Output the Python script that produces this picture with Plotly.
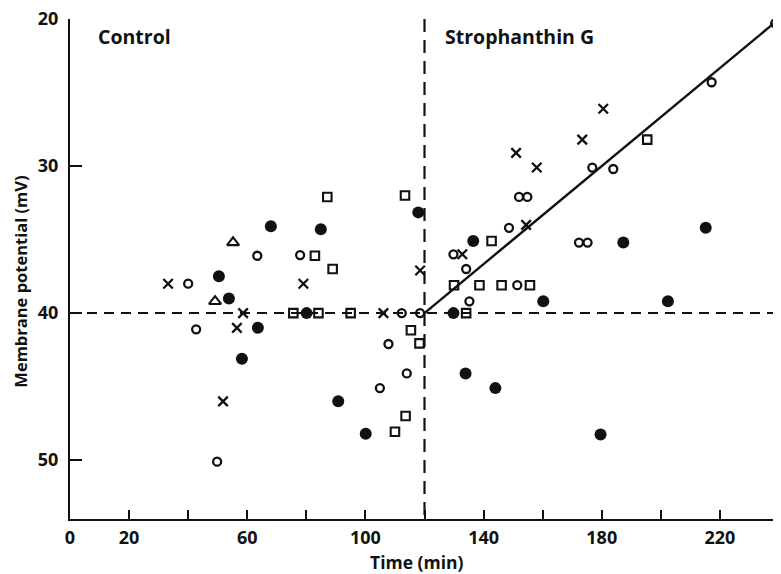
import plotly.graph_objects as go

# ---- data (time in min, membrane potential in mV) ----
open_circle_x = [40.0, 42.7, 49.8, 63.4, 77.9, 112.3, 118.5, 104.9, 107.8, 114.0, 129.8, 134.1, 135.2,
                 148.6, 151.4, 152.0, 154.8, 172.3, 175.2, 176.8, 183.9, 217.2, 238.7]
open_circle_y = [38.0, 41.1, 50.1, 36.1, 36.05, 40.0, 40.0, 45.1, 42.1, 44.1, 36.0, 37.0, 39.2,
                 34.2, 38.1, 32.1, 32.1, 35.2, 35.2, 30.1, 30.2, 24.3, 20.3]

filled_x = [50.4, 53.8, 63.6, 58.2, 68.0, 84.9, 80.1, 90.8, 100.1, 117.9, 129.8, 136.5, 133.9,
            144.0, 160.2, 179.6, 187.3, 202.4, 215.2]
filled_y = [37.5, 39.0, 41.0, 43.1, 34.1, 34.3, 40.0, 46.0, 48.2, 33.15, 40.0, 35.1, 44.1,
            45.1, 39.2, 48.25, 35.2, 39.2, 34.2]

square_x = [82.9, 87.1, 88.9, 75.6, 84.1, 95.0, 110.0, 113.6, 115.4, 118.3, 113.4, 130.0, 134.1,
            142.7, 138.6, 146.1, 155.7, 195.4]
square_y = [36.1, 32.1, 37.0, 40.0, 40.0, 40.0, 48.07, 47.0, 41.16, 42.06, 32.0, 38.1, 40.0,
            35.1, 38.1, 38.1, 38.1, 28.2]

cross_x = [33.2, 58.6, 56.5, 51.8, 79.0, 106.1, 118.5, 132.8, 154.4, 151.0, 158.0, 173.4, 180.5]
cross_y = [38.0, 40.0, 41.0, 46.0, 38.0, 40.0, 37.1, 36.0, 34.0, 29.1, 30.1, 28.2, 26.1]

triangle_x = [49.1, 55.2]
triangle_y = [39.2, 35.2]

# reference lines
baseline_x = [0, 240]
baseline_y = [40, 40]
drug_time_x = [120, 120]
drug_time_y = [20, 54]
fit_x = [120, 240]
fit_y = [40, 20]

x_tick_vals = [0, 20, 40, 60, 80, 100, 120, 140, 160, 180, 200, 220, 240]
x_tick_text = ["0", "20", "", "60", "", "100", "", "140", "", "180", "", "220", ""]
y_tick_vals = [20, 30, 40, 50]
y_tick_text = ["20", "30", "40", "50"]

FONT = "Open Sans"
BLACK = "#111111"

fig = go.Figure()

fig.add_trace(go.Scatter(x=baseline_x, y=baseline_y, mode="lines",
                         line=dict(color=BLACK, width=2, dash="10px,7px"), hoverinfo="skip"))
fig.add_trace(go.Scatter(x=drug_time_x, y=drug_time_y, mode="lines",
                         line=dict(color=BLACK, width=2.2, dash="13px,8px"), hoverinfo="skip"))
fig.add_trace(go.Scatter(x=fit_x, y=fit_y, mode="lines",
                         line=dict(color=BLACK, width=2.4), hoverinfo="skip"))

fig.add_trace(go.Scatter(x=open_circle_x, y=open_circle_y, mode="markers", cliponaxis=False,
                         marker=dict(symbol="circle-open", size=8, color=BLACK,
                                     line=dict(width=2.3, color=BLACK))))
fig.add_trace(go.Scatter(x=filled_x, y=filled_y, mode="markers", cliponaxis=False,
                         marker=dict(symbol="circle", size=12, color=BLACK,
                                     line=dict(width=0))))
fig.add_trace(go.Scatter(x=square_x, y=square_y, mode="markers", cliponaxis=False,
                         marker=dict(symbol="square-open", size=8.5, color=BLACK,
                                     line=dict(width=2.1, color=BLACK))))
fig.add_trace(go.Scatter(x=cross_x, y=cross_y, mode="markers", cliponaxis=False,
                         marker=dict(symbol="x-thin-open", size=9.5, color=BLACK,
                                     line=dict(width=2.3, color=BLACK))))
fig.add_trace(go.Scatter(x=triangle_x, y=triangle_y, mode="markers", cliponaxis=False,
                         marker=dict(symbol="triangle-up-open", size=10.5, color=BLACK,
                                     line=dict(width=2.1, color=BLACK))))

# the page body has an 8px margin, so the figure is laid out 8px left/up of the target
fig.update_layout(
    template="none",
    width=781, height=574,
    margin=dict(l=62, r=10, t=11, b=63, autoexpand=False),
    paper_bgcolor="white", plot_bgcolor="white",
    showlegend=False,
    font=dict(family=FONT, size=16, color=BLACK),
    xaxis=dict(range=[0, 240], tickmode="array", tickvals=x_tick_vals, ticktext=x_tick_text,
               ticks="inside", ticklen=9, tickwidth=2, tickcolor=BLACK, automargin=False,
               showline=True, linewidth=2, linecolor=BLACK, showgrid=False, zeroline=False,
               tickfont=dict(family=FONT, size=18, color=BLACK, weight="bold"),
               ticklabelstandoff=1, ticklabeloverflow="allow"),
    yaxis=dict(range=[54, 20], tickmode="array", tickvals=y_tick_vals, ticktext=y_tick_text,
               ticks="inside", ticklen=12, tickwidth=2, tickcolor=BLACK, automargin=False,
               showline=True, linewidth=2, linecolor=BLACK, showgrid=False, zeroline=False,
               tickfont=dict(family=FONT, size=18, color=BLACK, weight="bold"),
               ticklabelstandoff=6, ticklabeloverflow="allow"),
)

fig.add_annotation(text="<b>Membrane potential (mV)</b>", xref="paper", yref="paper",
                   x=-0.071, y=0.474, xanchor="center", yanchor="middle",
                   textangle=-90, showarrow=False,
                   font=dict(family=FONT, size=16.5, color=BLACK))
fig.add_annotation(text="<b>Time (min)</b>", xref="paper", yref="paper",
                   x=0.489, y=-0.086, xanchor="center", yanchor="middle", showarrow=False,
                   font=dict(family=FONT, size=17.5, color=BLACK))
fig.add_annotation(text="<b>Control</b>", xref="paper", yref="paper",
                   x=0.0367, y=0.966, xanchor="left", yanchor="middle", showarrow=False,
                   font=dict(family=FONT, size=19.5, color=BLACK))
fig.add_annotation(text="<b>Strophanthin G</b>", xref="paper", yref="paper",
                   x=0.526, y=0.966, xanchor="left", yanchor="middle", showarrow=False,
                   font=dict(family=FONT, size=19.5, color=BLACK))

fig.write_html("out.html")
